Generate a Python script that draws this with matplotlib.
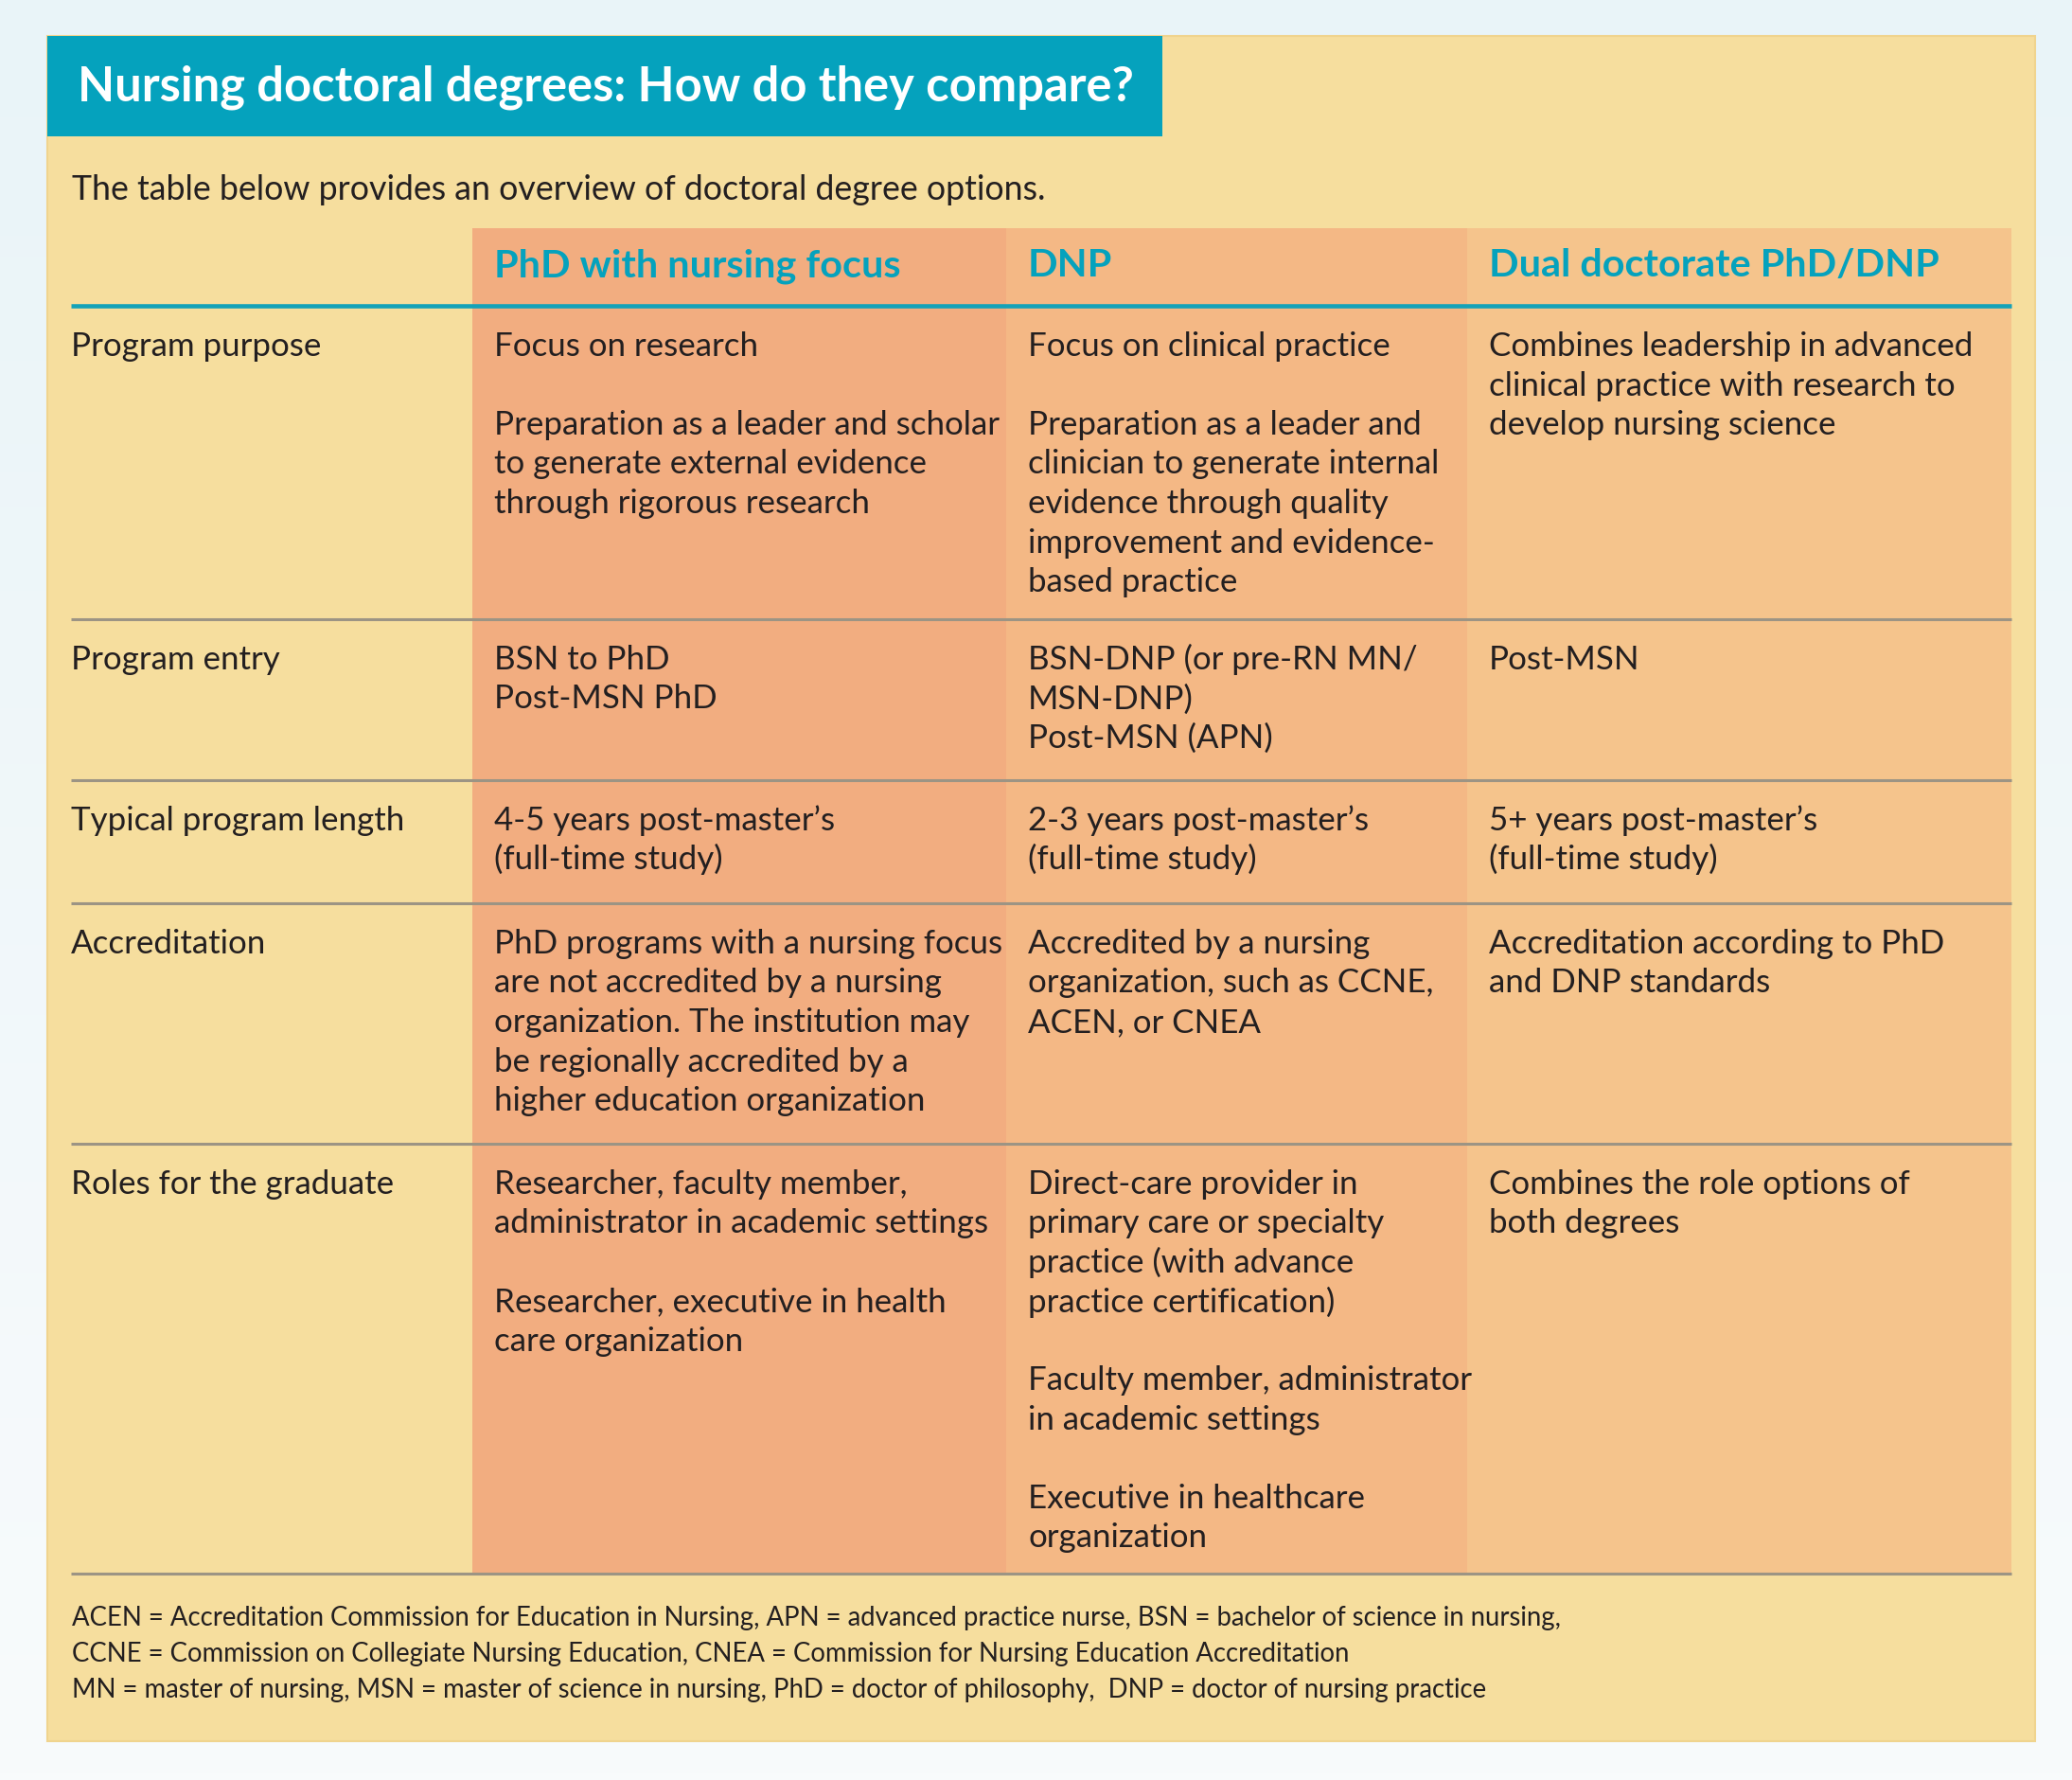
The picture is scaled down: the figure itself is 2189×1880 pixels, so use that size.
import matplotlib
matplotlib.use("Agg")
import matplotlib.pyplot as plt
from matplotlib.patches import Rectangle
from matplotlib.colors import LinearSegmentedColormap
import numpy as np

# ---------------- content ----------------
title = "Nursing doctoral degrees: How do they compare?"
subtitle = "The table below provides an overview of doctoral degree options."
col_headers = ["PhD with nursing focus", "DNP", "Dual doctorate PhD/DNP"]
row_labels = ["Program purpose", "Program entry", "Typical program length",
              "Accreditation", "Roles for the graduate"]
phd_cells = [
    "Focus on research\n\nPreparation as a leader and scholar\nto generate external evidence\nthrough rigorous research",
    "BSN to PhD\nPost-MSN PhD",
    "4-5 years post-master\u2019s\n(full-time study)",
    "PhD programs with a nursing focus\nare not accredited by a nursing\norganization. The institution may\nbe regionally accredited by a\nhigher education organization",
    "Researcher, faculty member,\nadministrator in academic settings\n\nResearcher, executive in health\ncare organization",
]
dnp_cells = [
    "Focus on clinical practice\n\nPreparation as a leader and\nclinician to generate internal\nevidence through quality\nimprovement and evidence-\nbased practice",
    "BSN-DNP (or pre-RN MN/\nMSN-DNP)\nPost-MSN (APN)",
    "2-3 years post-master\u2019s\n(full-time study)",
    "Accredited by a nursing\norganization, such as CCNE,\nACEN, or CNEA",
    "Direct-care provider in\nprimary care or specialty\npractice (with advance\npractice certification)\n\nFaculty member, administrator\nin academic settings\n\nExecutive in healthcare\norganization",
]
dual_cells = [
    "Combines leadership in advanced\nclinical practice with research to\ndevelop nursing science",
    "Post-MSN",
    "5+ years post-master\u2019s\n(full-time study)",
    "Accreditation according to PhD\nand DNP standards",
    "Combines the role options of\nboth degrees",
]
footnotes = [
    "ACEN = Accreditation Commission for Education in Nursing, APN = advanced practice nurse, BSN = bachelor of science in nursing,",
    "CCNE = Commission on Collegiate Nursing Education, CNEA = Commission for Nursing Education Accreditation",
    "MN = master of nursing, MSN = master of science in nursing, PhD = doctor of philosophy,  DNP = doctor of nursing practice",
]

# ---------------- style / layout ----------------
W, H, DPI = 2189, 1881, 100
TEAL = "#05a2bd"
YELLOW = "#f6de9e"
COL_COLORS = ["#f2ad80", "#f4b885", "#f5c48c"]
TEXT = "#231f20"
GRAY = "#9c9484"
BODY_FONT = ["Lato", "DejaVu Sans"]
TITLE_FONT = ["Lato", "DejaVu Sans"]

fig = plt.figure(figsize=(W / DPI, H / DPI), dpi=DPI)
ax = fig.add_axes([0, 0, 1, 1])
bg = LinearSegmentedColormap.from_list("bg", ["#e9f4f8", "#f8fbfc"])
ax.imshow(np.linspace(0, 1, 256)[:, None], extent=[0, W, H, 0], cmap=bg,
          aspect="auto", origin="upper", zorder=0)
ax.set_xlim(0, W)
ax.set_ylim(H, 0)
ax.axis("off")

fig.canvas.draw()
renderer = fig.canvas.get_renderer()


def fit_size(s, target, **kw):
    t = ax.text(0, 0, s, fontsize=20, **kw)
    w = t.get_window_extent(renderer).width
    t.remove()
    return 20.0 * target / w


body_fs = fit_size("Preparation as a leader and scholar", 535, family=BODY_FONT)
head_fs = fit_size(col_headers[0], 429, family=BODY_FONT, weight="bold")
sub_fs = fit_size(subtitle, 1031, family=BODY_FONT)
foot_fs = fit_size(footnotes[0], 1578, family=BODY_FONT)
title_fs = fit_size(title, 1115, family=TITLE_FONT, weight="bold")

# panel
ax.add_patch(Rectangle((50, 39), 2100, 1801, facecolor=YELLOW, edgecolor="#f0d48e",
                       linewidth=1.5, zorder=1))
# title box
ax.add_patch(Rectangle((50, 39), 1178, 106, facecolor=TEAL, edgecolor="none", zorder=2))
cap_px = 0.72 * title_fs * DPI / 72.0
ax.text(82, 88 + cap_px / 2, title, color="white", fontsize=title_fs, family=TITLE_FONT,
        weight="bold", va="baseline", ha="left", zorder=3)
ax.text(76, 211, subtitle, color=TEXT, fontsize=sub_fs, family=BODY_FONT,
        va="baseline", ha="left", zorder=3)

# table geometry
col_edges = [75, 499, 1063, 1550, 2125]
header_top = 242
teal_y = 324
row_lines = [655, 825, 955, 1209, 1663]
pad = 23
first_base = 52
step = 41.5

for i, c in enumerate(COL_COLORS):
    ax.add_patch(Rectangle((col_edges[i + 1], header_top),
                           col_edges[i + 2] - col_edges[i + 1],
                           row_lines[-1] - header_top,
                           facecolor=c, edgecolor="none", zorder=2))

for i, h in enumerate(col_headers):
    ax.text(col_edges[i + 1] + pad, 292, h, color=TEAL, fontsize=head_fs,
            family=BODY_FONT, weight="bold", va="baseline", ha="left", zorder=4)

ax.hlines(teal_y, col_edges[0], col_edges[-1], color="#14a2b8", linewidth=3.3, zorder=5)
ax.hlines(row_lines, col_edges[0], col_edges[-1], color=GRAY, linewidth=2.2, zorder=5)


def draw_block(x, y0, s):
    for k, line in enumerate(s.split("\n")):
        if line:
            ax.text(x, y0 + k * step, line, color=TEXT, fontsize=body_fs,
                    family=BODY_FONT, va="baseline", ha="left", zorder=4)


row_tops = [teal_y] + row_lines[:-1]
columns = [row_labels, phd_cells, dnp_cells, dual_cells]
for r, top in enumerate(row_tops):
    y0 = top + first_base
    for c, col in enumerate(columns):
        x = col_edges[0] if c == 0 else col_edges[c] + pad
        draw_block(x, y0, col[r])

foot_base = [1717, 1755, 1793]
for y, s in zip(foot_base, footnotes):
    ax.text(76, y, s, color=TEXT, fontsize=foot_fs, family=BODY_FONT,
            va="baseline", ha="left", zorder=4)

fig.savefig("out.png", dpi=DPI)
